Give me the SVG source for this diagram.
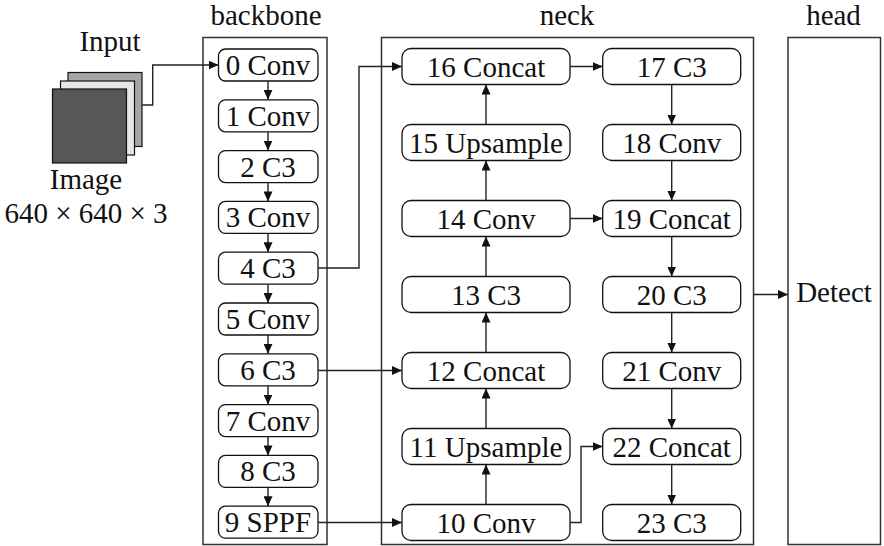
<svg xmlns="http://www.w3.org/2000/svg" width="884" height="546" viewBox="0 0 884 546" font-family="Liberation Serif, DejaVu Serif, serif">
<style>
  text { font-family: "Liberation Serif", "DejaVu Serif", "Noto Serif", serif; font-size: 29px; fill: #111; }
  .c { text-anchor: middle; }
  .frame { fill: none; stroke: #333; stroke-width: 1.5; }
  .node rect { fill: #fff; stroke: #111; stroke-width: 1.3; }
  .conn path { fill: none; stroke: #222; stroke-width: 1.4; marker-end: url(#arr); }
</style>
<defs>
  <marker id="arr" markerUnits="userSpaceOnUse" markerWidth="11" markerHeight="9" refX="10" refY="4.5" orient="auto">
    <path d="M0,0 L10,4.5 L0,9 z" fill="#111"/>
  </marker>
</defs>
<rect width="884" height="546" fill="#fff"/>

<!-- titles -->
<text class="c" x="266" y="25" font-family="Liberation Serif">backbone</text>
<text class="c" x="567" y="25">neck</text>
<text class="c" x="833.5" y="25">head</text>

<!-- frames -->
<rect class="frame" x="203" y="37.5" width="124" height="507"/>
<rect class="frame" x="381.5" y="37.5" width="372" height="507"/>
<rect class="frame" x="788" y="37.5" width="92.5" height="507"/>

<!-- input image -->
<g id="input">
  <text class="c" x="110" y="51">Input</text>
  <rect x="68" y="72.5" width="74" height="74" fill="#a6a6a6" stroke="#111" stroke-width="1.2"/>
  <rect x="60.5" y="81" width="74" height="74" fill="#e6e6e8" stroke="#111" stroke-width="1.2"/>
  <rect x="52.5" y="89" width="74" height="74" fill="#575757" stroke="#111" stroke-width="1.2"/>
  <text class="c" x="86" y="189">Image</text>
  <text class="c" x="86" y="223">640 × 640 × 3</text>
</g>

<!-- backbone nodes -->
<g id="n0" class="node"><rect x="218.5" y="49" width="99.5" height="32" rx="7"/><text class="c" x="268" y="75">0 Conv</text></g>
<g id="n1" class="node"><rect x="218.5" y="99.8" width="99.5" height="32" rx="7"/><text class="c" x="268" y="125.8">1 Conv</text></g>
<g id="n2" class="node"><rect x="218.5" y="150.6" width="99.5" height="32" rx="7"/><text class="c" x="268" y="176.6">2 C3</text></g>
<g id="n3" class="node"><rect x="218.5" y="201.4" width="99.5" height="32" rx="7"/><text class="c" x="268" y="227.4">3 Conv</text></g>
<g id="n4" class="node"><rect x="218.5" y="252.2" width="99.5" height="32" rx="7"/><text class="c" x="268" y="278.2">4 C3</text></g>
<g id="n5" class="node"><rect x="218.5" y="303" width="99.5" height="32" rx="7"/><text class="c" x="268" y="329">5 Conv</text></g>
<g id="n6" class="node"><rect x="218.5" y="353.8" width="99.5" height="32" rx="7"/><text class="c" x="268" y="379.8">6 C3</text></g>
<g id="n7" class="node"><rect x="218.5" y="404.6" width="99.5" height="32" rx="7"/><text class="c" x="268" y="430.6">7 Conv</text></g>
<g id="n8" class="node"><rect x="218.5" y="455.4" width="99.5" height="32" rx="7"/><text class="c" x="268" y="481.4">8 C3</text></g>
<g id="n9" class="node"><rect x="218.5" y="506.2" width="99.5" height="32" rx="7"/><text class="c" x="268" y="532.2">9 SPPF</text></g>

<!-- neck left column -->
<g id="n16" class="node"><rect x="402" y="48.5" width="168" height="36" rx="9"/><text class="c" x="486" y="76.5">16 Concat</text></g>
<g id="n15" class="node"><rect x="402" y="124.5" width="168" height="36" rx="9"/><text class="c" x="486" y="152.5">15 Upsample</text></g>
<g id="n14" class="node"><rect x="402" y="200.5" width="168" height="36" rx="9"/><text class="c" x="486" y="228.5">14 Conv</text></g>
<g id="n13" class="node"><rect x="402" y="276.5" width="168" height="36" rx="9"/><text class="c" x="486" y="304.5">13 C3</text></g>
<g id="n12" class="node"><rect x="402" y="352.5" width="168" height="36" rx="9"/><text class="c" x="486" y="380.5">12 Concat</text></g>
<g id="n11" class="node"><rect x="402" y="428.5" width="168" height="36" rx="9"/><text class="c" x="486" y="456.5">11 Upsample</text></g>
<g id="n10" class="node"><rect x="402" y="504.5" width="168" height="36" rx="9"/><text class="c" x="486" y="532.5">10 Conv</text></g>

<!-- neck right column -->
<g id="n17" class="node"><rect x="602.7" y="48.5" width="138" height="36" rx="9"/><text class="c" x="671.7" y="76.5">17 C3</text></g>
<g id="n18" class="node"><rect x="602.7" y="124.5" width="138" height="36" rx="9"/><text class="c" x="671.7" y="152.5">18 Conv</text></g>
<g id="n19" class="node"><rect x="602.7" y="200.5" width="138" height="36" rx="9"/><text class="c" x="671.7" y="228.5">19 Concat</text></g>
<g id="n20" class="node"><rect x="602.7" y="276.5" width="138" height="36" rx="9"/><text class="c" x="671.7" y="304.5">20 C3</text></g>
<g id="n21" class="node"><rect x="602.7" y="352.5" width="138" height="36" rx="9"/><text class="c" x="671.7" y="380.5">21 Conv</text></g>
<g id="n22" class="node"><rect x="602.7" y="428.5" width="138" height="36" rx="9"/><text class="c" x="671.7" y="456.5">22 Concat</text></g>
<g id="n23" class="node"><rect x="602.7" y="504.5" width="138" height="36" rx="9"/><text class="c" x="671.7" y="532.5">23 C3</text></g>

<!-- head -->
<g id="detect"><text class="c" x="834" y="302">Detect</text></g>

<!-- connectors -->
<g id="connectors" class="conn">
  <path d="M142,105 H152.7 V65 H218.5"/>
  <path d="M268,81 V99.8"/>
  <path d="M268,131.8 V150.6"/>
  <path d="M268,182.6 V201.4"/>
  <path d="M268,233.4 V252.2"/>
  <path d="M268,284.2 V303"/>
  <path d="M268,335 V353.8"/>
  <path d="M268,385.8 V404.6"/>
  <path d="M268,436.6 V455.4"/>
  <path d="M268,487.4 V506.2"/>
  <path d="M318,268 H359 V66.5 H402"/>
  <path d="M318,370.5 H402"/>
  <path d="M318,522.5 H402"/>
  <path d="M486,504.5 V464.5"/>
  <path d="M486,428.5 V388.5"/>
  <path d="M486,352.5 V312.5"/>
  <path d="M486,276.5 V236.5"/>
  <path d="M486,200.5 V160.5"/>
  <path d="M486,124.5 V84.5"/>
  <path d="M570,66.5 H602.7"/>
  <path d="M570,218.5 H602.7"/>
  <path d="M570,522.5 H581 V446.5 H602.7"/>
  <path d="M671.7,84.5 V124.5"/>
  <path d="M671.7,160.5 V200.5"/>
  <path d="M671.7,236.5 V276.5"/>
  <path d="M671.7,312.5 V352.5"/>
  <path d="M671.7,388.5 V428.5"/>
  <path d="M671.7,464.5 V504.5"/>
  <path d="M753.5,294.5 H788"/>
</g>
</svg>
